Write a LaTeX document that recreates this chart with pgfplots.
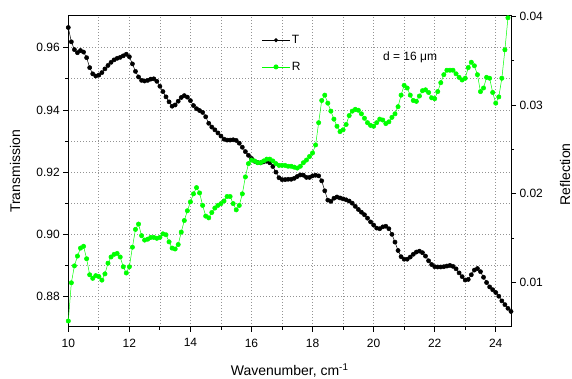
\documentclass[border=0pt]{standalone}
\usepackage{pgfplots}
\pgfplotsset{compat=1.18}
\usepackage{fontspec}
\setmainfont{Liberation Sans}
\definecolor{rgreen}{RGB}{0,255,0}
\begin{document}
\begin{tikzpicture}
\pgfplotsset{
  common/.style={
    scale only axis, width=442.7pt, height=310.7pt,
    xmin=10, xmax=24.5, clip=false,
    tick align=outside, major tick length=5pt, minor tick length=3pt,
    every tick/.style={black, line width=0.8pt},
    axis line style={line width=1pt},
    ticklabel style={font=\fontsize{12}{14}\selectfont},
    /pgf/number format/assume math mode=true,
    scaled y ticks=false,
    yticklabel style={/pgf/number format/fixed, /pgf/number format/fixed zerofill, /pgf/number format/precision=2},
  }
}
\begin{axis}[common,
  ymin=0.8703, ymax=0.9702,
  xtick={10,12,14,16,18,20,22,24}, minor xtick={11,13,15,17,19,21,23},
  ytick={0.88,0.90,0.92,0.94,0.96}, minor ytick={0.89,0.91,0.93,0.95},
  xtick pos=left, ytick pos=left,
  xticklabel style={yshift=-3.5pt},
  grid=both,
  major grid style={gray!85, line width=0.7pt, dash pattern=on 0.7pt off 2.3pt},
  minor grid style={gray!85, line width=0.7pt, dash pattern=on 0.7pt off 2.3pt},
  xlabel={Wavenumber, cm\textsuperscript{-1}},
  ylabel={Transmission},
  every axis x label/.style={at={(axis description cs:0.5,-0.140)}, anchor=center, font=\fontsize{14}{16}\selectfont},
  every axis y label/.style={at={(axis description cs:-0.120,0.5)}, rotate=90, anchor=center, font=\fontsize{14}{16}\selectfont},
]
\addplot[black, line width=0.5pt, mark=*, mark size=2.1pt] coordinates {
(10.0,0.9665) (10.1,0.9619) (10.2,0.9594) (10.3,0.9584) (10.4,0.9591) (10.5,0.9586) (10.6,0.9568) (10.7,0.9536) (10.8,0.9516) (10.9,0.9509)
(11.0,0.9512) (11.1,0.9520) (11.2,0.9532) (11.3,0.9543) (11.4,0.9553) (11.5,0.9561) (11.6,0.9566) (11.7,0.9569) (11.8,0.9574) (11.9,0.9579)
(12.0,0.9571) (12.1,0.9548) (12.2,0.9524) (12.3,0.9506) (12.4,0.9495) (12.5,0.9493) (12.6,0.9495) (12.7,0.9499) (12.8,0.9500) (12.9,0.9492)
(13.0,0.9476) (13.1,0.9459) (13.2,0.9442) (13.3,0.9426) (13.4,0.9412) (13.5,0.9416) (13.6,0.9428) (13.7,0.9440) (13.8,0.9446) (13.9,0.9441)
(14.0,0.9430) (14.1,0.9414) (14.2,0.9404) (14.3,0.9398) (14.4,0.9392) (14.5,0.9378) (14.6,0.9357) (14.7,0.9345) (14.8,0.9336) (14.9,0.9326)
(15.0,0.9316) (15.1,0.9306) (15.2,0.9303) (15.3,0.9303) (15.4,0.9304) (15.5,0.9302) (15.6,0.9293) (15.7,0.9280) (15.8,0.9266) (15.9,0.9254)
(16.0,0.9244) (16.1,0.9235) (16.2,0.9231) (16.3,0.9230) (16.4,0.9233) (16.5,0.9235) (16.6,0.9230) (16.7,0.9218) (16.8,0.9200) (16.9,0.9182)
(17.0,0.9176) (17.1,0.9176) (17.2,0.9177) (17.3,0.9177) (17.4,0.9180) (17.5,0.9186) (17.6,0.9191) (17.7,0.9190) (17.8,0.9183) (17.9,0.9183)
(18.0,0.9188) (18.1,0.9190) (18.2,0.9188) (18.3,0.9172) (18.4,0.9140) (18.5,0.9110) (18.6,0.9106) (18.7,0.9116) (18.8,0.9120) (18.9,0.9117)
(19.0,0.9114) (19.1,0.9111) (19.2,0.9107) (19.3,0.9100) (19.4,0.9090) (19.5,0.9080) (19.6,0.9071) (19.7,0.9063) (19.8,0.9052) (19.9,0.9040)
(20.0,0.9030) (20.1,0.9020) (20.2,0.9018) (20.3,0.9024) (20.4,0.9026) (20.5,0.9018) (20.6,0.9000) (20.7,0.8975) (20.8,0.8948) (20.9,0.8928)
(21.0,0.8920) (21.1,0.8920) (21.2,0.8927) (21.3,0.8936) (21.4,0.8943) (21.5,0.8946) (21.6,0.8941) (21.7,0.8930) (21.8,0.8915) (21.9,0.8903)
(22.0,0.8896) (22.1,0.8895) (22.2,0.8895) (22.3,0.8896) (22.4,0.8898) (22.5,0.8900) (22.6,0.8897) (22.7,0.8889) (22.8,0.8876) (22.9,0.8864)
(23.0,0.8853) (23.1,0.8855) (23.2,0.8870) (23.3,0.8885) (23.4,0.8890) (23.5,0.8880) (23.6,0.8862) (23.7,0.8845) (23.8,0.8831) (23.9,0.8822)
(24.0,0.8813) (24.1,0.8801) (24.2,0.8786) (24.3,0.8774) (24.4,0.8762) (24.5,0.8752)
};
\end{axis}
\begin{axis}[common,
  axis x line=none, axis y line*=right,
  ymin=0.00506, ymax=0.04,
  ytick={0.01,0.02,0.03,0.04}, minor ytick={0.015,0.025,0.035},
  ylabel={Reflection},
  every axis y label/.style={at={(axis description cs:1.122,0.49)}, rotate=90, anchor=center, font=\fontsize{14}{16}\selectfont},
  legend image code/.code={\draw[mark repeat=2,mark phase=2,#1] plot coordinates {(0cm,0cm) (0.475cm,0cm) (0.95cm,0cm)};},
  legend style={draw=none, fill=none, inner sep=0pt, at={(0.4376,0.945)}, anchor=north west,
    font=\fontsize{12}{14}\selectfont, row sep=13pt},
  legend cell align=left,
]
\addlegendimage{black, line width=0.5pt, mark=*, mark size=1.8pt}
\addlegendentry{T}
\addplot[rgreen, line width=0.5pt, mark=*, mark size=2.2pt] coordinates {
(10.0,0.0057) (10.1,0.0100) (10.2,0.0119) (10.3,0.0130) (10.4,0.0139) (10.5,0.0141) (10.6,0.0127) (10.7,0.0109) (10.8,0.0105) (10.9,0.0108)
(11.0,0.0107) (11.1,0.0103) (11.2,0.0110) (11.3,0.0122) (11.4,0.0129) (11.5,0.0132) (11.6,0.0133) (11.7,0.0129) (11.8,0.0118) (11.9,0.0111)
(12.0,0.0118) (12.1,0.0140) (12.2,0.0160) (12.3,0.0166) (12.4,0.0153) (12.5,0.0148) (12.6,0.0149) (12.7,0.0151) (12.8,0.0151) (12.9,0.0150)
(13.0,0.0151) (13.1,0.0155) (13.2,0.0154) (13.3,0.0146) (13.4,0.0139) (13.5,0.0138) (13.6,0.0143) (13.7,0.0157) (13.8,0.0170) (13.9,0.0181)
(14.0,0.0191) (14.1,0.0200) (14.2,0.0207) (14.3,0.0201) (14.4,0.0187) (14.5,0.0175) (14.6,0.0173) (14.7,0.0179) (14.8,0.0184) (14.9,0.0187)
(15.0,0.0189) (15.1,0.0192) (15.2,0.0197) (15.3,0.0197) (15.4,0.0189) (15.5,0.0182) (15.6,0.0187) (15.7,0.0200) (15.8,0.0219) (15.9,0.0234)
(16.0,0.0238) (16.1,0.0237) (16.2,0.0235) (16.3,0.0235) (16.4,0.0237) (16.5,0.0239) (16.6,0.0239) (16.7,0.0237) (16.8,0.0234) (16.9,0.0232)
(17.0,0.0232) (17.1,0.0232) (17.2,0.0231) (17.3,0.0231) (17.4,0.0230) (17.5,0.0229) (17.6,0.0231) (17.7,0.0235) (17.8,0.0238) (17.9,0.0242)
(18.0,0.0246) (18.1,0.0255) (18.2,0.0280) (18.3,0.0305) (18.4,0.0311) (18.5,0.0302) (18.6,0.0293) (18.7,0.0284) (18.8,0.0276) (18.9,0.0270)
(19.0,0.0272) (19.1,0.0278) (19.2,0.0288) (19.3,0.0293) (19.4,0.0295) (19.5,0.0294) (19.6,0.0290) (19.7,0.0285) (19.8,0.0280) (19.9,0.0277)
(20.0,0.0276) (20.1,0.0280) (20.2,0.0284) (20.3,0.0283) (20.4,0.0279) (20.5,0.0281) (20.6,0.0286) (20.7,0.0290) (20.8,0.0298) (20.9,0.0311)
(21.0,0.0322) (21.1,0.0319) (21.2,0.0311) (21.3,0.0305) (21.4,0.0304) (21.5,0.0310) (21.6,0.0316) (21.7,0.0317) (21.8,0.0314) (21.9,0.0308)
(22.0,0.0307) (22.1,0.0315) (22.2,0.0325) (22.3,0.0334) (22.4,0.0339) (22.5,0.0339) (22.6,0.0339) (22.7,0.0335) (22.8,0.0331) (22.9,0.0328)
(23.0,0.0330) (23.1,0.0342) (23.2,0.0348) (23.3,0.0344) (23.4,0.0334) (23.5,0.0315) (23.6,0.0319) (23.7,0.0331) (23.8,0.0330) (23.9,0.0314)
(24.0,0.0302) (24.1,0.0309) (24.2,0.0330) (24.3,0.0362) (24.4,0.0398)
};
\addlegendentry{R}
\node[font=\fontsize{12}{14}\selectfont] at (rel axis cs:0.772,0.868) {d = 16 μm};
\end{axis}
\pgfresetboundingbox
\path (-68.3pt,-52.3pt) rectangle (503.7pt,326.7pt);
\end{tikzpicture}
\end{document}
